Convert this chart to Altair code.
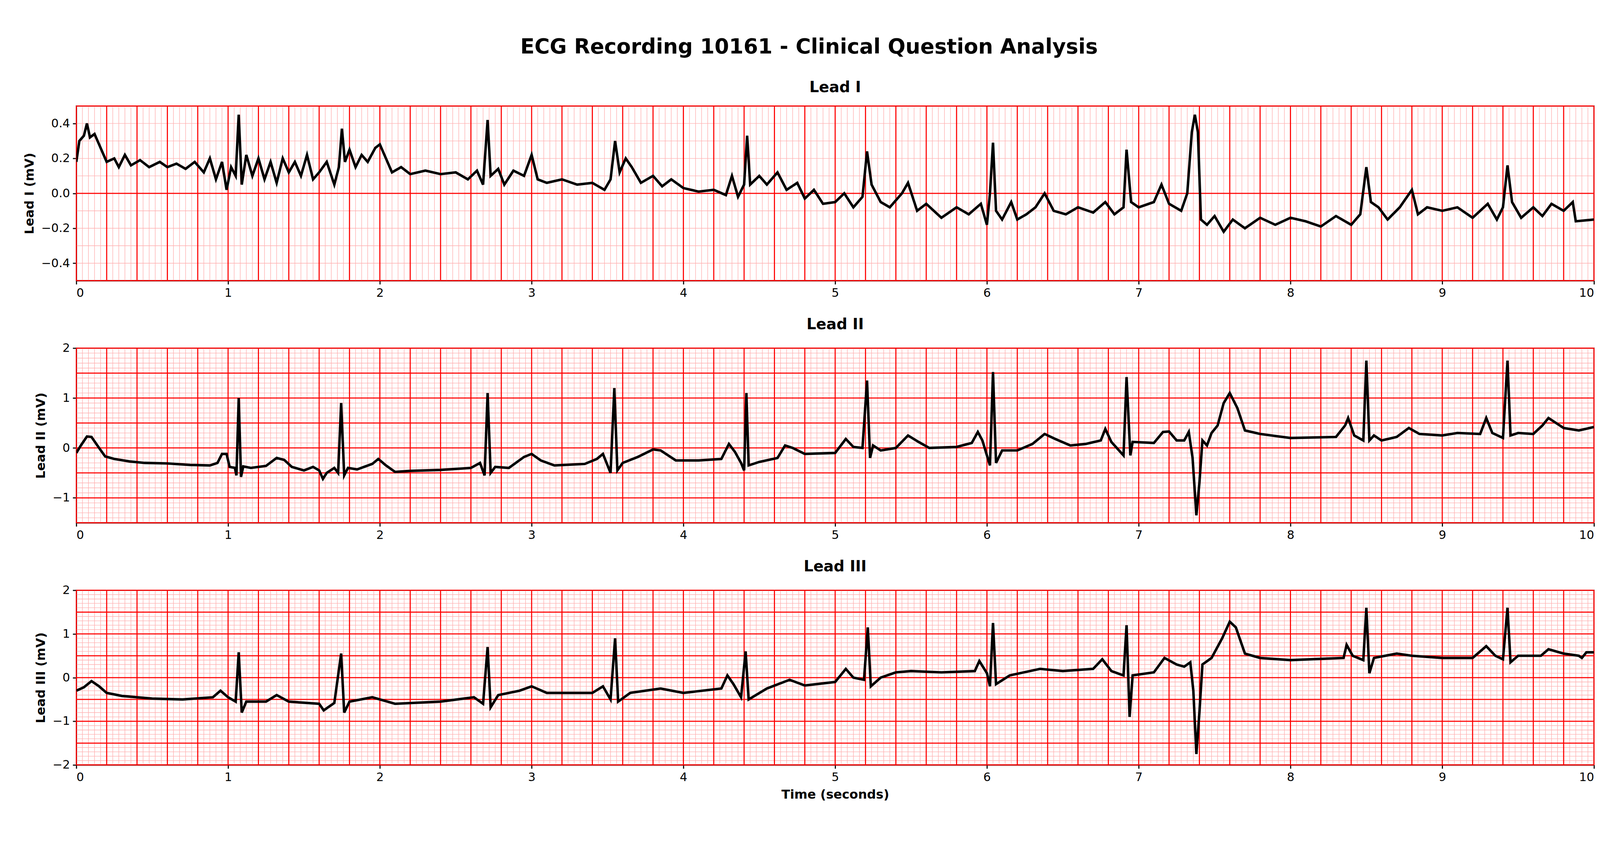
import numpy as np
import pandas as pd
import altair as alt

# Lead I (mV)
lead1_t = [0.00, 0.02, 0.05, 0.07, 0.09, 0.12, 0.15, 0.20, 0.25, 0.28, 0.32, 0.36, 0.42, 0.48, 0.55, 0.60, 0.66, 0.72, 0.78, 0.84,
           0.88, 0.92, 0.96, 0.99, 1.02, 1.05, 1.07, 1.09, 1.12, 1.16, 1.20, 1.24, 1.28, 1.32, 1.36, 1.40, 1.44, 1.48, 1.52, 1.56,
           1.60, 1.65, 1.70, 1.73, 1.75, 1.77, 1.80, 1.84, 1.88, 1.92, 1.97, 2.00, 2.04, 2.08, 2.14, 2.20, 2.30, 2.40, 2.50, 2.58,
           2.64, 2.68, 2.71, 2.73, 2.78, 2.82, 2.88, 2.95, 3.00, 3.04, 3.10, 3.20, 3.30, 3.40, 3.48, 3.52, 3.55, 3.58, 3.62, 3.66,
           3.72, 3.80, 3.86, 3.92, 4.00, 4.10, 4.20, 4.28, 4.32, 4.36, 4.40, 4.42, 4.44, 4.50, 4.55, 4.62, 4.68, 4.75, 4.80, 4.86,
           4.92, 5.00, 5.06, 5.12, 5.18, 5.21, 5.24, 5.30, 5.36, 5.44, 5.48, 5.54, 5.60, 5.70, 5.80, 5.88, 5.96, 6.00, 6.02, 6.04,
           6.06, 6.10, 6.16, 6.20, 6.26, 6.32, 6.38, 6.44, 6.52, 6.60, 6.70, 6.78, 6.84, 6.90, 6.92, 6.95, 7.00, 7.10, 7.15, 7.20,
           7.28, 7.32, 7.35, 7.37, 7.39, 7.41, 7.45, 7.50, 7.56, 7.62, 7.70, 7.80, 7.90, 8.00, 8.10, 8.20, 8.30, 8.40, 8.46, 8.50,
           8.53, 8.58, 8.64, 8.72, 8.80, 8.84, 8.90, 9.00, 9.10, 9.20, 9.30, 9.36, 9.40, 9.43, 9.46, 9.52, 9.60, 9.66, 9.72, 9.80,
           9.86, 9.88, 10.0]
lead1_v = [0.18, 0.30, 0.33, 0.40, 0.32, 0.34, 0.28, 0.18, 0.20, 0.15, 0.22, 0.16, 0.19, 0.15, 0.18, 0.15, 0.17, 0.14, 0.18, 0.12,
           0.20, 0.08, 0.18, 0.02, 0.15, 0.10, 0.45, 0.05, 0.22, 0.10, 0.20, 0.08, 0.18, 0.06, 0.20, 0.12, 0.18, 0.10, 0.22, 0.08,
           0.12, 0.18, 0.05, 0.15, 0.37, 0.18, 0.25, 0.15, 0.22, 0.18, 0.26, 0.28, 0.20, 0.12, 0.15, 0.11, 0.13, 0.11, 0.12, 0.08,
           0.13, 0.05, 0.42, 0.10, 0.14, 0.05, 0.13, 0.10, 0.22, 0.08, 0.06, 0.08, 0.05, 0.06, 0.02, 0.08, 0.30, 0.12, 0.20, 0.15,
           0.06, 0.10, 0.04, 0.08, 0.03, 0.01, 0.02, -0.01, 0.10, -0.02, 0.05, 0.33, 0.05, 0.10, 0.05, 0.12, 0.02, 0.06, -0.03, 0.02,
           -0.06, -0.05, 0.00, -0.08, -0.02, 0.24, 0.05, -0.05, -0.08, 0.00, 0.06, -0.10, -0.06, -0.14, -0.08, -0.12, -0.06, -0.18, 0.00, 0.29,
           -0.10, -0.15, -0.05, -0.15, -0.12, -0.08, 0.00, -0.10, -0.12, -0.08, -0.11, -0.05, -0.12, -0.08, 0.25, -0.05, -0.08, -0.05, 0.05, -0.06,
           -0.10, 0.00, 0.35, 0.45, 0.35, -0.15, -0.18, -0.13, -0.22, -0.15, -0.20, -0.14, -0.18, -0.14, -0.16, -0.19, -0.13, -0.18, -0.12, 0.15,
           -0.05, -0.08, -0.15, -0.08, 0.02, -0.12, -0.08, -0.10, -0.08, -0.14, -0.06, -0.15, -0.08, 0.16, -0.05, -0.14, -0.08, -0.13, -0.06, -0.10,
           -0.05, -0.16, -0.15]

# Lead II (mV)
lead2_t = [0.00, 0.03, 0.07, 0.10, 0.15, 0.19, 0.25, 0.35, 0.45, 0.60, 0.75, 0.88, 0.93, 0.96, 0.99, 1.01, 1.045, 1.055, 1.07, 1.085,
           1.10, 1.15, 1.25, 1.32, 1.37, 1.42, 1.50, 1.56, 1.60, 1.625, 1.65, 1.70, 1.725, 1.745, 1.765, 1.79, 1.85, 1.95, 1.99, 2.04,
           2.10, 2.20, 2.40, 2.60, 2.66, 2.69, 2.71, 2.73, 2.76, 2.85, 2.95, 3.00, 3.06, 3.15, 3.35, 3.43, 3.47, 3.52, 3.545, 3.565,
           3.60, 3.70, 3.80, 3.85, 3.95, 4.10, 4.25, 4.30, 4.34, 4.38, 4.40, 4.415, 4.43, 4.50, 4.62, 4.67, 4.72, 4.80, 5.00, 5.07,
           5.12, 5.18, 5.21, 5.23, 5.25, 5.30, 5.40, 5.48, 5.55, 5.62, 5.80, 5.90, 5.94, 5.97, 6.02, 6.04, 6.06, 6.10, 6.20, 6.30,
           6.38, 6.45, 6.55, 6.65, 6.75, 6.78, 6.82, 6.90, 6.92, 6.945, 6.96, 7.10, 7.16, 7.20, 7.25, 7.30, 7.33, 7.355, 7.38, 7.40,
           7.42, 7.45, 7.48, 7.52, 7.56, 7.60, 7.65, 7.70, 7.80, 7.90, 8.00, 8.30, 8.36, 8.38, 8.42, 8.48, 8.50, 8.52, 8.55, 8.60,
           8.70, 8.78, 8.85, 9.00, 9.10, 9.25, 9.29, 9.33, 9.40, 9.43, 9.45, 9.50, 9.60, 9.66, 9.70, 9.75, 9.80, 9.90, 10.0]
lead2_v = [-0.10, 0.05, 0.23, 0.22, 0.00, -0.17, -0.22, -0.27, -0.30, -0.31, -0.34, -0.35, -0.30, -0.12, -0.12, -0.38, -0.40, -0.55, 1.00, -0.58,
           -0.37, -0.40, -0.36, -0.20, -0.24, -0.38, -0.45, -0.38, -0.45, -0.62, -0.50, -0.40, -0.50, 0.90, -0.55, -0.40, -0.43, -0.32, -0.22, -0.35,
           -0.48, -0.46, -0.44, -0.40, -0.30, -0.55, 1.10, -0.50, -0.38, -0.40, -0.18, -0.12, -0.25, -0.35, -0.32, -0.22, -0.12, -0.50, 1.20, -0.45,
           -0.30, -0.18, -0.03, -0.05, -0.25, -0.25, -0.22, 0.08, -0.08, -0.30, -0.45, 1.10, -0.35, -0.28, -0.20, 0.05, 0.00, -0.12, -0.10, 0.18,
           0.02, 0.00, 1.35, -0.20, 0.05, -0.05, 0.00, 0.25, 0.12, 0.00, 0.02, 0.10, 0.32, 0.15, -0.35, 1.52, -0.30, -0.05, -0.05, 0.08,
           0.28, 0.18, 0.05, 0.08, 0.15, 0.38, 0.12, -0.15, 1.42, -0.15, 0.12, 0.10, 0.32, 0.33, 0.15, 0.15, 0.32, -0.20, -1.35, -0.70,
           0.15, 0.05, 0.30, 0.45, 0.90, 1.10, 0.80, 0.35, 0.28, 0.24, 0.20, 0.22, 0.45, 0.60, 0.25, 0.15, 1.75, 0.15, 0.25, 0.15,
           0.22, 0.40, 0.28, 0.25, 0.30, 0.28, 0.60, 0.30, 0.20, 1.75, 0.25, 0.30, 0.28, 0.45, 0.60, 0.50, 0.40, 0.35, 0.42]

# Lead III (mV)
lead3_t = [0.00, 0.05, 0.10, 0.15, 0.20, 0.30, 0.50, 0.70, 0.90, 0.95, 1.00, 1.05, 1.07, 1.09, 1.12, 1.25, 1.32, 1.40, 1.60, 1.63,
           1.70, 1.745, 1.765, 1.80, 1.95, 2.00, 2.10, 2.40, 2.62, 2.68, 2.71, 2.73, 2.78, 2.92, 3.00, 3.10, 3.40, 3.47, 3.52, 3.55,
           3.57, 3.65, 3.85, 4.00, 4.25, 4.29, 4.33, 4.38, 4.41, 4.43, 4.55, 4.70, 4.80, 5.00, 5.07, 5.12, 5.19, 5.215, 5.235, 5.30,
           5.40, 5.50, 5.70, 5.92, 5.95, 6.00, 6.02, 6.04, 6.06, 6.15, 6.35, 6.50, 6.70, 6.76, 6.82, 6.90, 6.92, 6.94, 6.96, 7.10,
           7.17, 7.25, 7.30, 7.34, 7.36, 7.38, 7.40, 7.42, 7.48, 7.55, 7.60, 7.64, 7.70, 7.80, 8.00, 8.35, 8.37, 8.41, 8.48, 8.50,
           8.52, 8.55, 8.70, 8.80, 9.00, 9.20, 9.29, 9.35, 9.40, 9.43, 9.45, 9.50, 9.65, 9.70, 9.80, 9.90, 9.92, 9.95, 10.0]
lead3_v = [-0.30, -0.22, -0.08, -0.20, -0.35, -0.42, -0.48, -0.50, -0.45, -0.30, -0.45, -0.55, 0.58, -0.80, -0.55, -0.55, -0.40, -0.55, -0.60, -0.75,
           -0.58, 0.55, -0.80, -0.55, -0.45, -0.50, -0.60, -0.55, -0.45, -0.60, 0.70, -0.68, -0.40, -0.30, -0.20, -0.35, -0.35, -0.20, -0.50, 0.90,
           -0.55, -0.35, -0.25, -0.35, -0.25, 0.05, -0.15, -0.45, 0.60, -0.50, -0.25, -0.05, -0.18, -0.10, 0.20, 0.00, -0.05, 1.15, -0.20, 0.00,
           0.12, 0.15, 0.12, 0.15, 0.38, 0.10, -0.20, 1.25, -0.15, 0.05, 0.20, 0.15, 0.20, 0.42, 0.15, 0.05, 1.20, -0.90, 0.05, 0.12,
           0.45, 0.30, 0.25, 0.35, -0.30, -1.75, -0.80, 0.30, 0.45, 0.90, 1.28, 1.15, 0.55, 0.45, 0.40, 0.45, 0.75, 0.50, 0.40, 1.60,
           0.10, 0.45, 0.55, 0.50, 0.45, 0.45, 0.72, 0.50, 0.42, 1.60, 0.35, 0.50, 0.50, 0.65, 0.55, 0.50, 0.45, 0.58, 0.58]

W, H = 4230, 487
FONT = "DejaVu Sans"


def panel(name, t, v, ydom, yticks, yfmt, xtitle=None):
    xs = alt.Scale(domain=[0, 10], nice=False, zero=False)
    ys = alt.Scale(domain=ydom, nice=False, zero=False)
    minor_x = pd.DataFrame({"x": np.round(np.arange(0, 10.0001, 0.04), 3)})
    major_x = pd.DataFrame({"x": np.round(np.arange(0, 10.0001, 0.2), 3)})
    minor_y = pd.DataFrame({"y": np.round(np.arange(ydom[0], ydom[1] + 1e-4, 0.1), 3)})
    major_y = pd.DataFrame({"y": np.round(np.arange(ydom[0], ydom[1] + 1e-4, 0.5), 3)})

    xax = alt.Axis(values=list(range(11)), grid=False, title=xtitle, format="d")
    yax = alt.Axis(values=yticks, grid=False, title=f"{name} (mV)", format=yfmt)

    mx = alt.Chart(minor_x).mark_rule(color="#ffb0b0", strokeWidth=1.5).encode(x=alt.X("x:Q", scale=xs, axis=xax))
    my = alt.Chart(minor_y).mark_rule(color="#ffb0b0", strokeWidth=1.5).encode(y=alt.Y("y:Q", scale=ys, axis=yax))
    Mx = alt.Chart(major_x).mark_rule(color="red", strokeWidth=3).encode(x=alt.X("x:Q", scale=xs))
    My = alt.Chart(major_y).mark_rule(color="red", strokeWidth=3).encode(y=alt.Y("y:Q", scale=ys))
    df = pd.DataFrame({"t": t, "v": v})
    line = alt.Chart(df).mark_line(color="black", strokeWidth=7, clip=True).encode(
        x=alt.X("t:Q", scale=xs), y=alt.Y("v:Q", scale=ys))
    return alt.layer(mx, my, Mx, My, line).properties(
        width=W, height=H,
        title=alt.TitleParams(name, fontSize=42, fontWeight="bold", font=FONT, offset=28))


chart = alt.vconcat(
    panel("Lead I", lead1_t, lead1_v, [-0.5, 0.5], [-0.4, -0.2, 0.0, 0.2, 0.4], ".1f"),
    panel("Lead II", lead2_t, lead2_v, [-1.5, 2.0], [-1, 0, 1, 2], "d"),
    panel("Lead III", lead3_t, lead3_v, [-2.0, 2.0], [-2, -1, 0, 1, 2], "d", xtitle="Time (seconds)"),
    spacing=46,
).properties(
    title=alt.TitleParams("ECG Recording 10161 - Clinical Question Analysis", fontSize=58,
                          fontWeight="bold", font=FONT, offset=60, anchor="middle"),
    padding={"left": 55, "top": 0, "right": 5, "bottom": 5},
).configure_axis(
    labelFont=FONT, labelFontSize=33, titleFont=FONT, titleFontSize=35, titleFontWeight="bold",
    domainColor="black", domainWidth=3, tickColor="black", tickWidth=3, tickSize=10,
    labelColor="black", titleColor="black", labelPadding=8, titlePadding=14,
).configure_view(stroke="black", strokeWidth=3).configure_title(color="black")

chart.save("out.html", embed_options={"renderer": "svg", "actions": False})
